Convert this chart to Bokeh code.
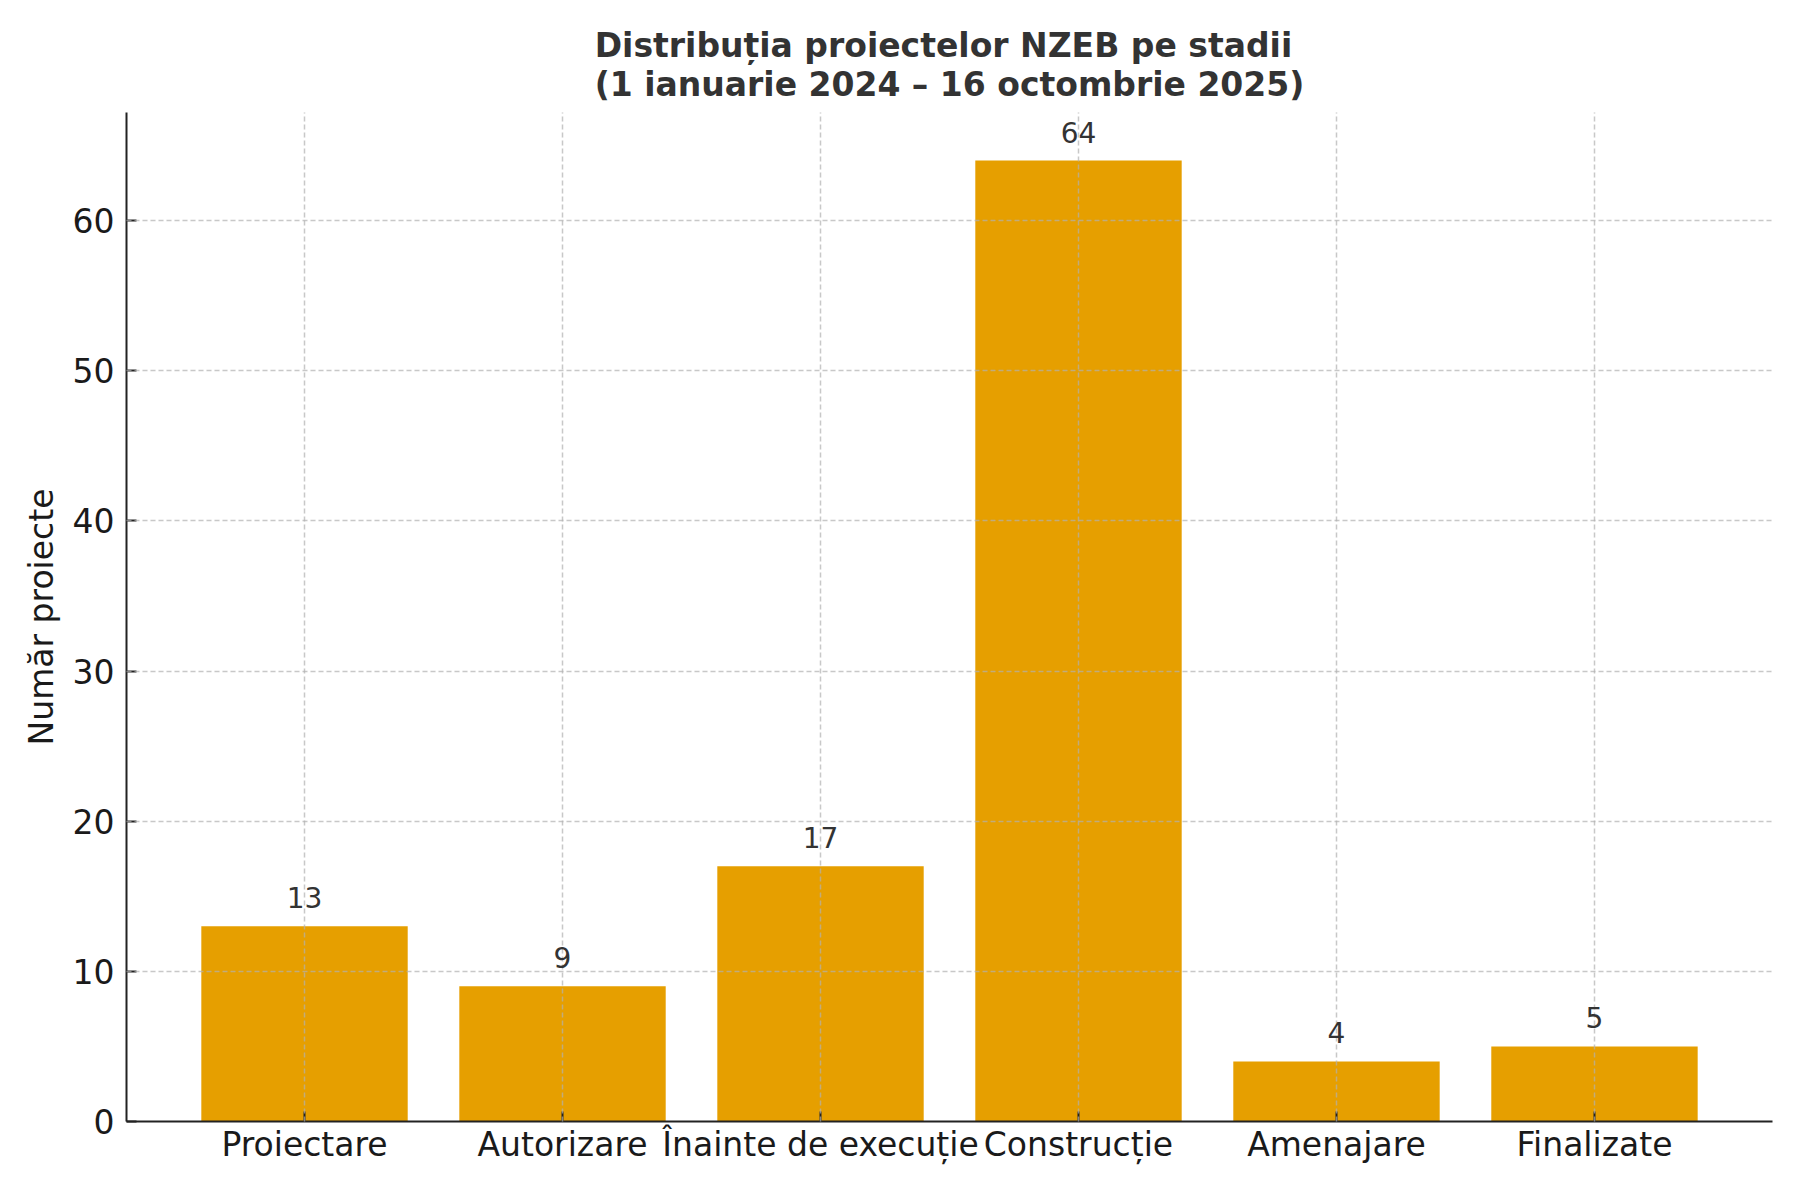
from bokeh.plotting import figure
from bokeh.models import ColumnDataSource, Range1d, FactorRange, LabelSet, Title, FixedTicker
from bokeh.core.properties import value
from bokeh.embed import file_html
from bokeh.resources import INLINE

categories = ["Proiectare", "Autorizare", "Înainte de execuție", "Construcție", "Amenajare", "Finalizate"]
counts = [13, 9, 17, 64, 4, 5]
y_ticks = [0, 10, 20, 30, 40, 50, 60]
title_line1 = "Distribuția proiectelor NZEB pe stadii"
title_line2 = "(1 ianuarie 2024 – 16 octombrie 2025)"
y_label = "Număr proiecte"

FONT = "DejaVu Sans"

src = ColumnDataSource(dict(cat=categories, n=counts, lbl=[str(v) for v in counts]))

p = figure(
    width=1784, height=1184,
    x_range=FactorRange(factors=categories, range_padding=0.19, range_padding_units="absolute"),
    y_range=Range1d(0, 67.2),
    output_backend="svg", toolbar_location=None, title=None,
    min_border_left=126, min_border_right=12, min_border_top=112, min_border_bottom=63,
)
p.outline_line_color = None
p.background_fill_color = "white"
p.border_fill_color = "white"

p.vbar(x="cat", top="n", width=0.8, source=src, fill_color="#E69F00", line_color=None)

labels = LabelSet(x="cat", y="n", text="lbl", source=src, y_offset=18,
                  text_align="center", text_baseline="alphabetic",
                  text_font=value(FONT), text_font_size=value("28px"), text_color="#333333")
p.add_layout(labels)

title = Title(text=title_line1 + "\n" + title_line2, align="center", text_font=FONT,
              text_font_size="33px", text_font_style="bold", text_color="#333333",
              standoff=18, text_line_height=1.0)
p.add_layout(title, "above")

for ax in (p.xaxis[0], p.yaxis[0]):
    ax.axis_line_color = "#222222"
    ax.axis_line_width = 2
    ax.major_tick_line_color = "#222222"
    ax.major_tick_line_width = 2
    ax.major_tick_in = 10
    ax.major_tick_out = 0
    ax.minor_tick_line_color = None
    ax.major_label_text_font = FONT
    ax.major_label_text_font_size = "33px"
    ax.major_label_text_color = "#1a1a1a"

p.xaxis.major_label_standoff = 3
p.yaxis.major_label_standoff = 12
p.yaxis.ticker = FixedTicker(ticks=y_ticks)
p.yaxis.axis_label = y_label
p.yaxis.axis_label_text_font = FONT
p.yaxis.axis_label_text_font_size = "33px"
p.yaxis.axis_label_text_font_style = "normal"
p.yaxis.axis_label_text_color = "#1a1a1a"
p.yaxis.axis_label_standoff = 9

for g in (p.xgrid[0], p.ygrid[0]):
    g.grid_line_color = "#b0b0b0"
    g.grid_line_alpha = 0.7
    g.grid_line_dash = "5 3"
    g.grid_line_width = 1.5
    g.level = "annotation"

open("out.html", "w").write(file_html(p, INLINE))
